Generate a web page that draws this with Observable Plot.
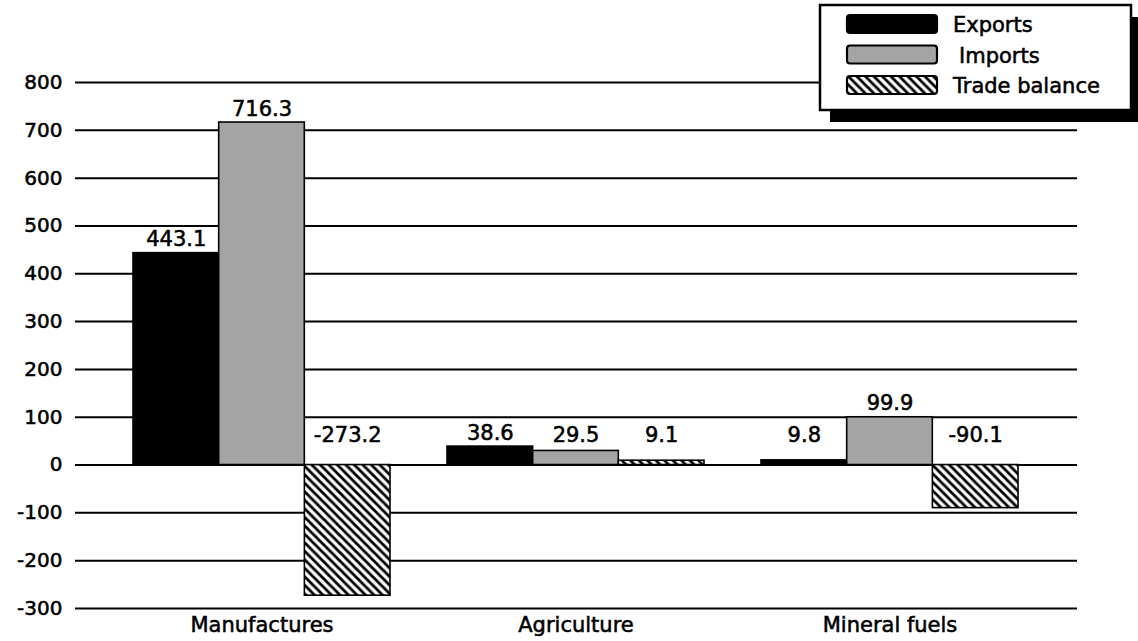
<!DOCTYPE html>
<html>
<head>
<meta charset="utf-8">
<script src="https://cdn.jsdelivr.net/npm/d3@7"></script>
<script src="https://cdn.jsdelivr.net/npm/@observablehq/plot@0.6"></script>
<style>
  html, body { margin: 0; padding: 0; background: white; }
  #wrap { position: relative; width: 1138px; height: 641px; overflow: hidden; }
  #legend { position: absolute; left: 0; top: 0; }
  #wrap text { stroke: black; stroke-width: 0.55px; }
</style>
</head>
<body>
<div id="wrap"></div>
<script>
const categories = ["Manufactures", "Agriculture", "Mineral fuels"];
const series = ["Exports", "Imports", "Trade balance"];
const exportsVals = [443.1, 38.6, 9.8];
const importsVals = [716.3, 29.5, 99.9];
const balanceVals = [-273.2, 9.1, -90.1];
const yTicks = [-300, -200, -100, 0, 100, 200, 300, 400, 500, 600, 700, 800];
const seriesFills = ["#000000", "#a4a4a4", "url(#hatch)"];

const valuesBySeries = [exportsVals, importsVals, balanceVals];
const rows = categories.flatMap((c, i) =>
  series.map((s, j) => ({category: c, series: s, value: valuesBySeries[j][i]}))
);

const font = "DejaVu Sans, Liberation Sans, sans-serif";

const W = 1138, H = 641, mL = 75, mR = 61, mT = 82, mB = 33;
const padIn = 0.1815, padOut = 0.186;
// bandwidth of the category band scale, split evenly among the series
const bandwidth = (W - mL - mR) * (1 - padIn) / (categories.length - padIn + 2 * padOut);
const sub = bandwidth / series.length;

const barMarks = series.flatMap((s, j) => {
  const data = rows.filter(d => d.series === s);
  return [
    Plot.barY(data, {x: "category", y: "value", fill: "series", stroke: "black", strokeWidth: 1.6,
      insetLeft: j * sub, insetRight: (series.length - 1 - j) * sub}),
    Plot.text(data, {x: "category", y: d => Math.max(d.value, 34), text: d => d.value.toFixed(1),
      dx: (j - (series.length - 1) / 2) * sub, lineAnchor: "bottom", dy: -7, fontSize: 21, fill: "black"})
  ];
});

const chart = Plot.plot({
  width: W,
  height: H,
  marginLeft: mL,
  marginRight: mR,
  marginTop: mT,
  marginBottom: mB,
  style: {fontFamily: font, background: "white", color: "black"},
  x: {domain: categories, paddingInner: padIn, paddingOuter: padOut, label: null, axis: null},
  y: {domain: [-300, 800], axis: null},
  color: {domain: series, range: seriesFills},
  marks: [
    Plot.ruleY(yTicks, {stroke: "black", strokeWidth: 2}),
    Plot.text(yTicks, {y: d => d, text: d => String(d), frameAnchor: "left",
      textAnchor: "end", dx: -13, fontSize: 20, fill: "black"}),
    ...barMarks,
    Plot.axisX({anchor: "bottom", tickSize: 0, tickPadding: 9, fontSize: 21, label: null})
  ]
});

chart.insertAdjacentHTML("afterbegin", `<defs>
  <pattern id="hatch" patternUnits="userSpaceOnUse" width="8.5" height="8.5">
    <rect width="8.5" height="8.5" fill="white"/>
    <path d="M-2,-2 L10.5,10.5 M-2,6.5 L2,10.5 M6.5,-2 L10.5,2" stroke="black" stroke-width="2.8"/>
  </pattern>
</defs>`);

const wrap = document.getElementById("wrap");
wrap.appendChild(chart);

// Legend overlay
const lg = d3.create("svg").attr("id", "legend").attr("width", W).attr("height", H)
  .style("pointer-events", "none");
lg.append("rect").attr("x", 830).attr("y", 17).attr("width", 311).attr("height", 105).attr("fill", "black");
lg.append("rect").attr("x", 820).attr("y", 5).attr("width", 311).attr("height", 105)
  .attr("fill", "white").attr("stroke", "black").attr("stroke-width", 2.5);
const items = lg.selectAll("g.item").data(series).join("g").attr("class", "item")
  .attr("transform", (d, i) => `translate(0, ${i * 30.5})`);
items.append("rect").attr("x", 847).attr("y", 15).attr("width", 90).attr("height", 18)
  .attr("rx", 3).attr("fill", (d, i) => seriesFills[i]).attr("stroke", "black").attr("stroke-width", 2.2);
items.append("text").attr("x", (d, i) => i === 1 ? 959 : 953).attr("y", 32)
  .attr("font-family", font).attr("font-size", 21).attr("fill", "black").text(d => d);
wrap.appendChild(lg.node());
</script>
</body>
</html>
